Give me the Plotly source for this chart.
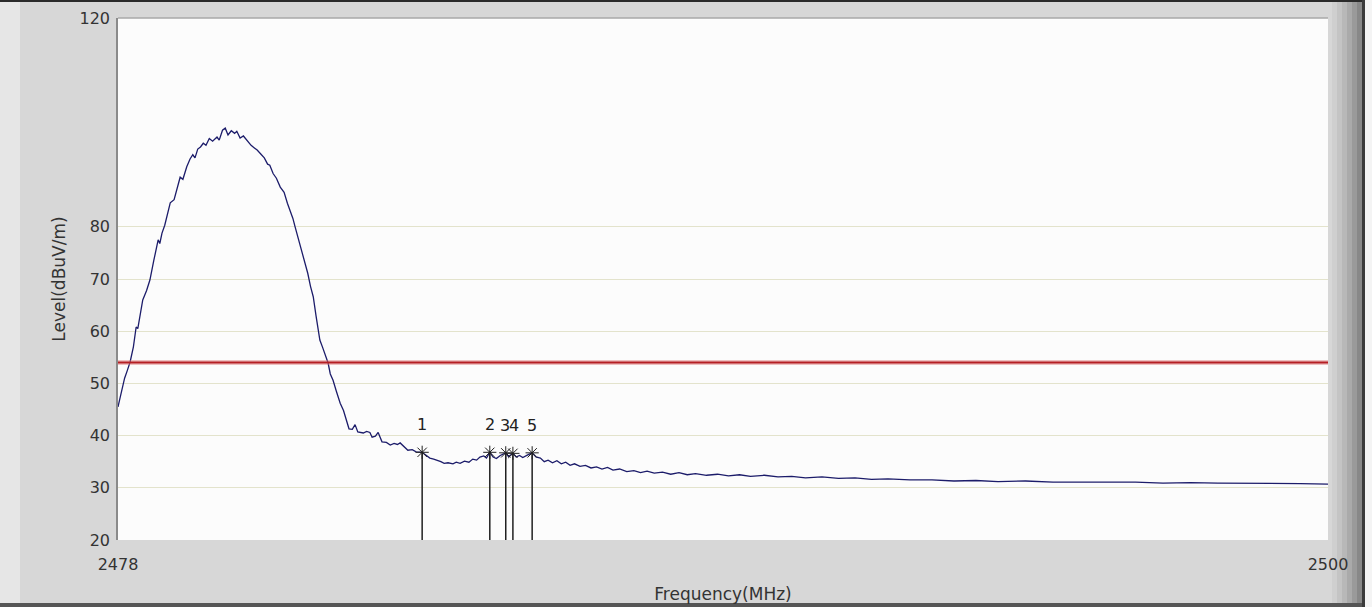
import plotly.graph_objects as go

# ---- data ----
freq_mhz = [
    2478.00, 2478.04, 2478.07, 2478.12, 2478.17, 2478.22, 2478.28, 2478.33, 2478.36, 2478.40,
    2478.45, 2478.52, 2478.58, 2478.65, 2478.73, 2478.76, 2478.80, 2478.85, 2478.90, 2478.95,
    2479.02, 2479.08, 2479.13, 2479.18, 2479.25, 2479.31, 2479.36, 2479.40, 2479.45, 2479.50,
    2479.55, 2479.60, 2479.66, 2479.72, 2479.80, 2479.84, 2479.90, 2479.95, 2480.00, 2480.06,
    2480.12, 2480.16, 2480.22, 2480.28, 2480.35, 2480.42, 2480.48, 2480.53, 2480.60, 2480.66,
    2480.72, 2480.76, 2480.82, 2480.88, 2480.95, 2481.02, 2481.08, 2481.13, 2481.18, 2481.22,
    2481.28, 2481.35, 2481.40, 2481.45, 2481.50, 2481.55, 2481.60, 2481.67, 2481.72, 2481.78,
    2481.82, 2481.86, 2481.91, 2481.97, 2482.04, 2482.10, 2482.16, 2482.20, 2482.26, 2482.31,
    2482.36, 2482.46, 2482.52, 2482.58, 2482.62, 2482.68, 2482.73, 2482.80, 2482.88, 2482.95,
    2483.02, 2483.08, 2483.13, 2483.20, 2483.27, 2483.35, 2483.42, 2483.53, 2483.60, 2483.67,
    2483.74, 2483.80, 2483.87, 2483.93, 2484.00, 2484.09, 2484.15, 2484.22, 2484.30, 2484.38,
    2484.45, 2484.52, 2484.58, 2484.65, 2484.70, 2484.76, 2484.82, 2484.88, 2484.95, 2485.05,
    2485.10, 2485.18, 2485.24, 2485.30, 2485.36, 2485.45, 2485.53, 2485.60, 2485.68, 2485.75,
    2485.82, 2485.90, 2485.98, 2486.06, 2486.14, 2486.22, 2486.30, 2486.40, 2486.50, 2486.60,
    2486.70, 2486.80, 2486.90, 2487.00, 2487.12, 2487.25, 2487.38, 2487.50, 2487.62, 2487.75,
    2487.90, 2488.05, 2488.20, 2488.35, 2488.50, 2488.70, 2488.90, 2489.10, 2489.30, 2489.50,
    2489.75, 2490.00, 2490.25, 2490.50, 2490.80, 2491.10, 2491.40, 2491.70, 2492.00, 2492.40,
    2492.80, 2493.20, 2493.60, 2494.00, 2494.50, 2495.00, 2495.50, 2496.00, 2496.50, 2497.00,
    2497.50, 2498.00, 2498.50, 2499.00, 2499.50, 2500.00]
level_dbuv = [
    45.5, 47.5, 48.7, 51.0, 52.5, 54.1, 57.0, 60.8, 60.5, 63.0,
    66.0, 67.8, 69.8, 73.5, 77.5, 76.8, 78.8, 80.3, 82.5, 84.6,
    85.2, 87.8, 89.5, 89.1, 91.5, 93.0, 93.8, 93.2, 94.9, 95.3,
    96.0, 95.6, 96.9, 96.4, 97.2, 96.6, 98.5, 98.9, 97.6, 98.4,
    97.9, 98.3, 97.0, 97.4, 96.4, 95.6, 95.1, 94.7, 93.9, 93.2,
    92.0, 91.8, 90.2, 89.3, 87.6, 86.6, 84.5, 83.2, 81.6, 80.0,
    77.8, 75.0, 73.4, 71.1, 68.6, 66.6, 63.0, 58.3, 56.9, 55.0,
    53.9, 51.8, 50.6, 48.5, 46.2, 44.8, 42.8, 41.3, 41.2, 42.1,
    40.7, 40.5, 40.8, 40.6, 39.7, 39.9, 40.6, 38.8, 38.7, 38.2,
    38.5, 38.3, 38.6, 37.9, 37.2, 37.3, 36.9, 36.8, 36.2, 35.7,
    35.5, 35.3, 35.0, 34.7, 34.8, 34.6, 34.9, 34.7, 35.1, 34.9,
    35.5, 35.3, 35.9, 36.1, 35.7, 36.8, 35.9, 35.6, 36.2, 36.7,
    36.0, 36.6, 35.9, 36.2, 35.8, 36.3, 36.7, 35.9, 35.7, 35.0,
    35.3, 34.8, 35.2, 34.6, 34.9, 34.3, 34.6, 34.1, 34.3, 33.8,
    34.0, 33.6, 33.9, 33.4, 33.6, 33.1, 33.3, 32.9, 33.2, 32.8,
    33.0, 32.6, 32.9, 32.5, 32.7, 32.4, 32.6, 32.3, 32.5, 32.2,
    32.4, 32.1, 32.2, 31.9, 32.1, 31.8, 31.9, 31.6, 31.7, 31.5,
    31.5, 31.3, 31.4, 31.2, 31.3, 31.1, 31.1, 31.0, 31.1, 30.9,
    31.0, 30.9, 30.9, 30.8, 30.8, 30.7]

limit_level = 54.0

marker_freq = [2483.53, 2484.76, 2485.05, 2485.18, 2485.53]
marker_level = [36.8, 36.8, 36.7, 36.6, 36.7]
marker_labels = ["1", "2", "3", "4", "5"]

x_range = [2478, 2500]
y_range = [20, 120]
y_ticks = [20, 30, 40, 50, 60, 70, 80, 120]
x_ticks = [2478, 2500]

FONT = "DejaVu Sans"
TXT = "#333333"

# label placement styles (3 and 4 sit side by side as "34")
label_anchor = ["center", "center", "right", "left", "center"]
label_xshift = [0, 0, 5, -5, 0]

fig = go.Figure()

fig.add_trace(go.Scatter(x=freq_mhz, y=level_dbuv, mode="lines",
                         line=dict(color="#1c1c6a", width=1.3), hoverinfo="skip"))

fig.add_trace(go.Scatter(x=x_range, y=[limit_level, limit_level], mode="lines",
                         line=dict(color="rgba(220,120,120,0.45)", width=5), hoverinfo="skip"))
fig.add_trace(go.Scatter(x=x_range, y=[limit_level, limit_level], mode="lines",
                         line=dict(color="#b51f24", width=2.2), hoverinfo="skip"))

vx, vy = [], []
for f, l in zip(marker_freq, marker_level):
    vx += [f, f, None]
    vy += [y_range[0], l, None]
fig.add_trace(go.Scatter(x=vx, y=vy, mode="lines",
                         line=dict(color="#202020", width=1.5), hoverinfo="skip"))
fig.add_trace(go.Scatter(x=marker_freq, y=marker_level, mode="markers",
                         marker=dict(symbol="asterisk-open", size=11, color="#202020",
                                     line=dict(color="#202020", width=1)),
                         hoverinfo="skip"))

for f, l, t, a, s in zip(marker_freq, marker_level, marker_labels, label_anchor, label_xshift):
    fig.add_annotation(x=f, y=l, text=t, showarrow=False, yanchor="bottom", xanchor=a,
                       xshift=s, yshift=17, borderpad=0,
                       font=dict(family=FONT, size=16, color="#222222"))

L, T, W, H = 118, 18, 1210, 522
def px(xp):
    return (xp - L) / W
def py(yp):
    return (T + H - yp) / H

shapes = []
shapes.append(dict(type="rect", xref="paper", yref="paper", x0=px(0), x1=px(20),
                   y0=py(607), y1=py(0), fillcolor="#e6e6e6", line=dict(width=0), layer="below"))
grads = ["#cfcfcf", "#c4c4c4", "#b8b8b8", "#aaaaaa", "#9a9a9a", "#888888"]
x_start, x_end = 1332, 1362
step = (x_end - x_start) / len(grads)
for i, c in enumerate(grads):
    shapes.append(dict(type="rect", xref="paper", yref="paper",
                       x0=px(x_start + i * step), x1=px(x_start + (i + 1) * step),
                       y0=py(603), y1=py(2), fillcolor=c, line=dict(width=0), layer="below"))
shapes.append(dict(type="rect", xref="paper", yref="paper", x0=px(1362), x1=px(1365),
                   y0=py(607), y1=py(0), fillcolor="#3a3a3a", line=dict(width=0), layer="below"))
shapes.append(dict(type="rect", xref="paper", yref="paper", x0=px(1365), x1=px(1372),
                   y0=py(607), y1=py(0), fillcolor="#f4f4f4", line=dict(width=0), layer="below"))
shapes.append(dict(type="rect", xref="paper", yref="paper", x0=px(0), x1=px(1362),
                   y0=py(2), y1=py(0), fillcolor="#2a2a2a", line=dict(width=0), layer="below"))
shapes.append(dict(type="rect", xref="paper", yref="paper", x0=px(0), x1=px(1362),
                   y0=py(607), y1=py(603), fillcolor="#555555", line=dict(width=0), layer="below"))
shapes.append(dict(type="line", xref="paper", yref="paper", x0=0, x1=1, y0=1, y1=1,
                   line=dict(color="#a8a8a8", width=1.5)))

fig.update_layout(
    width=1372, height=607,
    margin=dict(l=L, r=1372 - L - W, t=T, b=607 - T - H, autoexpand=False),
    paper_bgcolor="#d7d7d7",
    plot_bgcolor="#fcfcfc",
    showlegend=False,
    shapes=shapes,
    font=dict(family=FONT, size=16, color=TXT),
    xaxis=dict(range=x_range, tickvals=x_ticks, ticktext=[str(v) for v in x_ticks],
               automargin=False,
               showgrid=False, zeroline=False, showline=False,
               ticks="outside", ticklen=10, tickcolor="rgba(0,0,0,0)",
               tickfont=dict(family=FONT, size=16, color=TXT),
               title=dict(text="Frequency(MHz)", standoff=14,
                          font=dict(family=FONT, size=17, color=TXT))),
    yaxis=dict(range=y_range, tickvals=y_ticks, ticktext=[str(v) for v in y_ticks],
               automargin=False,
               showgrid=True, gridcolor="#e3e3cc", gridwidth=1.2, zeroline=False,
               showline=True, linecolor="#8a8a8a", linewidth=1.5,
               ticks="outside", ticklen=3, tickcolor="rgba(0,0,0,0)",
               tickfont=dict(family=FONT, size=16, color=TXT),
               title=dict(text="Level(dBuV/m)", standoff=10,
                          font=dict(family=FONT, size=17, color=TXT))),
)

post_js = (
    "document.body.style.margin='0';document.body.style.overflow='hidden';"
    "var st=document.createElement('style');"
    "st.textContent='.modebar-container{display:none !important;}';"
    "document.head.appendChild(st);"
)
fig.write_html("out.html", post_script=post_js)
